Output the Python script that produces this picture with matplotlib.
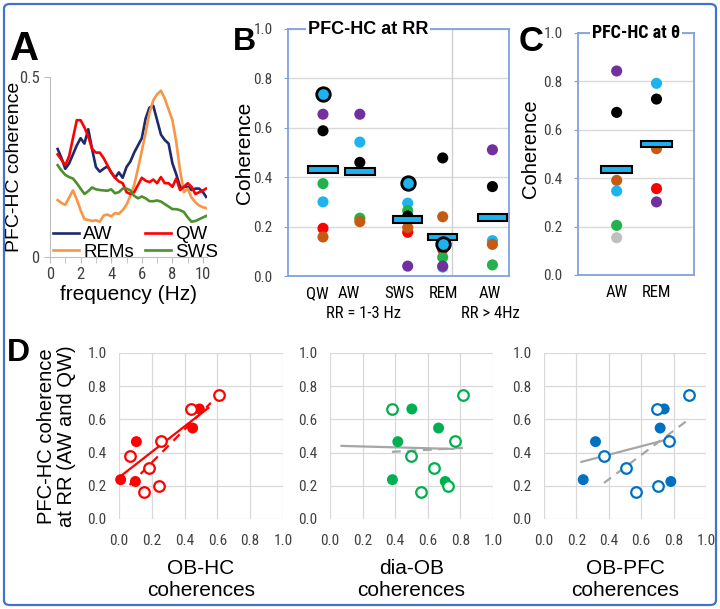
import matplotlib
matplotlib.use('Agg')
import numpy as np
import matplotlib.pyplot as plt
from matplotlib import font_manager as fm
from matplotlib.patches import FancyBboxPatch

plt.rcParams['font.family'] = ['Liberation Sans', 'DejaVu Sans']
# a condensed face for tick labels if one is installed
installed = {f.name for f in fm.fontManager.ttflist}
NARROW = [n for n in ['Liberation Sans Narrow', 'Arial Narrow', 'Roboto Condensed']
          if n in installed] + ['Liberation Sans', 'DejaVu Sans']
TICK_FS = 11 if len(NARROW) > 2 else 10.5

# ---------------- data ----------------
# A: PFC-HC coherence spectra
freq = [0.5, 0.75, 1.0, 1.25, 1.5, 1.75, 2.0, 2.25, 2.5, 2.75, 3.0, 3.25, 3.5, 3.75,
        4.0, 4.25, 4.5, 4.75, 5.0, 5.25, 5.5, 5.75, 6.0, 6.25, 6.5, 6.75, 7.0, 7.25,
        7.5, 7.75, 8.0, 8.25, 8.5, 8.75, 9.0, 9.25, 9.5, 9.75, 10.0, 10.2]
coh_aw = [0.30, 0.275, 0.245, 0.26, 0.285, 0.31, 0.33, 0.315, 0.355, 0.30, 0.25, 0.237,
          0.245, 0.252, 0.235, 0.22, 0.235, 0.22, 0.25, 0.265, 0.29, 0.31, 0.33, 0.385,
          0.415, 0.42, 0.38, 0.34, 0.325, 0.315, 0.26, 0.23, 0.195, 0.195, 0.195, 0.186,
          0.19, 0.19, 0.18, 0.167]
coh_qw = [0.285, 0.27, 0.255, 0.28, 0.33, 0.38, 0.38, 0.36, 0.335, 0.30, 0.29, 0.29,
          0.275, 0.255, 0.235, 0.22, 0.21, 0.205, 0.18, 0.175, 0.18, 0.20, 0.22, 0.212,
          0.208, 0.215, 0.205, 0.222, 0.205, 0.205, 0.195, 0.218, 0.186, 0.195, 0.205,
          0.195, 0.175, 0.18, 0.185, 0.19]
coh_rem = [0.158, 0.15, 0.145, 0.165, 0.185, 0.16, 0.13, 0.105, 0.103, 0.10, 0.102, 0.098,
           0.115, 0.118, 0.113, 0.122, 0.12, 0.13, 0.145, 0.17, 0.20, 0.245, 0.295, 0.345,
           0.40, 0.435, 0.452, 0.462, 0.44, 0.41, 0.38, 0.32, 0.24, 0.18, 0.19, 0.165,
           0.152, 0.143, 0.138, 0.136]
coh_sws = [0.255, 0.24, 0.228, 0.222, 0.218, 0.205, 0.19, 0.175, 0.183, 0.193, 0.188, 0.186,
           0.185, 0.184, 0.188, 0.177, 0.18, 0.19, 0.19, 0.185, 0.17, 0.163, 0.168, 0.163,
           0.155, 0.155, 0.157, 0.154, 0.147, 0.14, 0.133, 0.133, 0.13, 0.125, 0.11, 0.098,
           0.10, 0.105, 0.11, 0.114]

# B: coherence at RR per animal (value, animal)
b_labels = ['QW', 'AW', 'SWS', 'REM', 'AW']
b_qw = [(0.655, 'purple'), (0.588, 'black'), (0.374, 'green'), (0.300, 'cyan'),
        (0.193, 'red'), (0.158, 'brown'), (0.736, 'ring')]
b_aw = [(0.655, 'purple'), (0.542, 'cyan'), (0.460, 'black'), (0.234, 'green'),
        (0.220, 'brown')]
b_sws = [(0.040, 'purple'), (0.295, 'cyan'), (0.265, 'green'), (0.243, 'black'),
         (0.177, 'red'), (0.196, 'brown'), (0.378, 'ring')]
b_rem = [(0.036, 'cyan'), (0.478, 'black'), (0.240, 'brown'), (0.108, 'red'),
         (0.076, 'green'), (0.040, 'purple'), (0.128, 'ring')]
b_aw4 = [(0.511, 'purple'), (0.362, 'black'), (0.143, 'cyan'), (0.128, 'brown'),
         (0.045, 'green')]
b_median = [0.430, 0.424, 0.228, 0.158, 0.238]

# C: coherence at theta
c_labels = ['AW', 'REM']
c_aw = [(0.843, 'purple'), (0.672, 'black'), (0.391, 'brown'), (0.347, 'cyan'),
        (0.205, 'green'), (0.154, 'gray')]
c_rem = [(0.792, 'cyan'), (0.727, 'black'), (0.522, 'brown'), (0.357, 'red'),
         (0.302, 'purple')]
c_median = [0.437, 0.541]

# D: PFC-HC coherence at RR vs other coherences (filled = AW, open = QW)
d_y_aw = [0.663, 0.548, 0.466, 0.237, 0.226]
d_y_qw = [0.750, 0.663, 0.468, 0.378, 0.305, 0.198, 0.165]
obhc_aw = [0.49, 0.449, 0.106, 0.01, 0.10]
obhc_qw = [0.608, 0.437, 0.257, 0.065, 0.184, 0.245, 0.151]
diaob_aw = [0.502, 0.666, 0.416, 0.383, 0.707]
diaob_qw = [0.814, 0.379, 0.766, 0.496, 0.641, 0.723, 0.559]
obpfc_aw = [0.742, 0.717, 0.318, 0.242, 0.783]
obpfc_qw = [0.897, 0.696, 0.769, 0.372, 0.506, 0.705, 0.568]
d_xlabels = ['OB-HC\ncoherences', 'dia-OB\ncoherences', 'OB-PFC\ncoherences']

# ---------------- style ----------------
colors = {'purple': '#7030A0', 'black': '#000000', 'cyan': '#1DB3EE', 'green': '#22B14C',
          'red': '#FF0000', 'brown': '#C65A11', 'gray': '#BFBFBF', 'ring': '#1DB3EE'}
frame_blue = '#7FA0DF'
W, H = 720, 609

fig = plt.figure(figsize=(W / 100, H / 100), dpi=100)


def px_axes(l, t, r, b):
    return fig.add_axes([l / W, 1 - b / H, (r - l) / W, (b - t) / H])


def px_text(x, y, s, **kw):
    return fig.text(x / W, 1 - y / H, s, **kw)


# outer rounded frame
fig.patches.append(FancyBboxPatch((4 / W, 4 / H), 1 - 8 / W, 1 - 8 / H,
                                  boxstyle='round,pad=0,rounding_size=0.008',
                                  transform=fig.transFigure, fc='none',
                                  ec='#4472C4', lw=1.6))

# ---------------- panel A ----------------
axa = px_axes(50, 77, 207, 257)
axa.plot(freq, coh_aw, color='#1F2A6B', lw=1.9, label='AW')
axa.plot(freq, coh_rem, color='#F79646', lw=1.9, label='REMs')
axa.plot(freq, coh_qw, color='#FF0000', lw=1.9, label='QW')
axa.plot(freq, coh_sws, color='#4E8F2E', lw=1.9, label='SWS')
axa.set_xlim(0, 10.26)
axa.set_ylim(0, 0.5)
for s in ['top', 'right']:
    axa.spines[s].set_visible(False)
for s in ['left', 'bottom']:
    axa.spines[s].set_color('#BFBFBF')
axa.set_xticks([0, 2, 4, 6, 8, 10])
axa.set_xticks([1, 3, 5, 7, 9], minor=True)
axa.set_yticks([0, 0.5])
axa.set_yticklabels(['0', '0.5'])
axa.tick_params(which='both', color='#BFBFBF', length=4, labelsize=TICK_FS + 1,
                labelcolor='#404040')
for lab in axa.get_xticklabels() + axa.get_yticklabels():
    lab.set_family(NARROW)
axa.set_ylabel('PFC-HC coherence', fontsize=14)
axa.yaxis.set_label_coords(-0.17, 0.5)
axa.set_xlabel('frequency (Hz)', fontsize=15, labelpad=2)
axa.legend(ncol=2, loc='lower left', bbox_to_anchor=(0.02, -0.02), frameon=False,
           fontsize=13.5, handlelength=1.4, handletextpad=0.2, columnspacing=0.6,
           labelspacing=0.0, borderpad=0, borderaxespad=0)
px_text(10, 60, 'A', fontsize=29, fontweight='bold', ha='left', va='baseline')


def dot_panel(ax, groups, medians, pos, bar_w, bar_h):
    for x, grp in zip(pos, groups):
        for v, key in grp:
            if key == 'ring':
                ax.scatter(x, v, s=95, color=colors[key], edgecolor='black', lw=2.0,
                           zorder=4)
            else:
                ax.scatter(x, v, s=64, color=colors[key], edgecolor='none', zorder=3)
    ax.bar(pos, [bar_h] * len(pos), bottom=[m - bar_h / 2 for m in medians],
           width=bar_w, color='#1DB3EE', edgecolor='black', lw=1.5, zorder=3.5)
    ax.set_ylim(0, 1)
    ax.set_yticks([0, 0.2, 0.4, 0.6, 0.8, 1.0])
    ax.set_yticklabels(['0.0', '0.2', '0.4', '0.6', '0.8', '1.0'])
    ax.grid(axis='y', color='#D9D9D9', lw=1)
    ax.set_axisbelow(True)
    for s in ax.spines.values():
        s.set_color(frame_blue)
        s.set_linewidth(1.3)
    ax.tick_params(axis='y', length=3, color=frame_blue, pad=8, labelsize=TICK_FS,
                   labelcolor='#404040')
    ax.tick_params(axis='x', length=0, pad=7, labelsize=TICK_FS + 1)
    for lab in ax.get_yticklabels():
        lab.set_family(NARROW)


# ---------------- panel B ----------------
axb = px_axes(288, 29, 509, 276)
b_pos = [0.95, 1.95, 3.25, 4.2, 5.55]
b_label_pos = [0.79, 1.66, 3.03, 4.21, 5.49]
axb.set_xlim(0, 6)
dot_panel(axb, [b_qw, b_aw, b_sws, b_rem, b_aw4], b_median, b_pos, 0.8, 0.028)
axb.axvline(4.45, color='#D0D0D0', lw=1, zorder=1)
axb.set_xticks(b_label_pos)
axb.set_xticklabels(b_labels, family=NARROW)
axb.set_ylabel('Coherence', fontsize=15)
axb.yaxis.set_label_coords(-0.155, 0.5)
axb.text(0.362, 1.0, 'PFC-HC at RR', transform=axb.transAxes, ha='center',
         va='center', fontsize=13, fontweight='bold', zorder=6,
         bbox=dict(fc='white', ec='none', pad=1.5))
axb.text(2.05, -0.15, 'RR = 1-3 Hz', transform=axb.get_xaxis_transform(),
         ha='center', va='center', fontsize=TICK_FS + 1, family=NARROW)
axb.text(5.5, -0.15, 'RR > 4Hz', transform=axb.get_xaxis_transform(),
         ha='center', va='center', fontsize=TICK_FS + 1, family=NARROW)
px_text(233, 50, 'B', fontsize=23, fontweight='bold', ha='left', va='baseline')

# ---------------- panel C ----------------
axc = px_axes(578, 33, 694, 275)
c_pos = [1.0, 2.03]
axc.set_xlim(0, 3)
dot_panel(axc, [c_aw, c_rem], c_median, c_pos, 0.8, 0.028)
axc.set_xticks(c_pos)
axc.set_xticklabels(c_labels, family=NARROW)
axc.set_ylabel('Coherence', fontsize=14.5)
axc.yaxis.set_label_coords(-0.325, 0.52)
axc.text(0.5, 1.0, 'PFC-HC at θ', transform=axc.transAxes, ha='center',
         va='center', fontsize=13, fontweight='bold', zorder=6, family=NARROW,
         bbox=dict(fc='white', ec='none', pad=1.5))
px_text(519, 51, 'C', fontsize=25, fontweight='bold', ha='left', va='baseline')

# ---------------- panel D ----------------
d_boxes = [(119, 353, 283, 519), (330, 353, 493, 519), (544, 353, 706, 519)]
d_x_aw = [obhc_aw, diaob_aw, obpfc_aw]
d_x_qw = [obhc_qw, diaob_qw, obpfc_qw]
d_cols = ['#FF0000', '#00B050', '#0070C0']
d_fit_cols = ['#FF0000', '#A6A6A6', '#A6A6A6']
d_solid_span = [(0.0, 0.545), (0.07, 0.755), (0.231, 0.79)]
d_dash_span = [(0.065, 0.56), (0.38, 0.82), (0.37, 0.9)]

for i, box in enumerate(d_boxes):
    ax = px_axes(*box)
    col = d_cols[i]
    k1, b1 = np.polyfit(d_x_aw[i], d_y_aw, 1)
    k2, b2 = np.polyfit(d_x_qw[i], d_y_qw, 1)
    xs = np.array(d_solid_span[i])
    ax.plot(xs, k1 * xs + b1, color=d_fit_cols[i], lw=1.6, zorder=2)
    xd = np.array(d_dash_span[i])
    ax.plot(xd, k2 * xd + b2, color=d_fit_cols[i], lw=1.6, ls=(0, (4, 3)), zorder=2)
    ax.scatter(d_x_aw[i], d_y_aw, s=62, color=col, edgecolor='none', zorder=3,
               clip_on=False)
    ax.scatter(d_x_qw[i], d_y_qw, s=58, facecolor='white', edgecolor=col, lw=1.6,
               zorder=3, clip_on=False)
    ax.set_xlim(0, 1)
    ax.set_ylim(0, 1)
    ticks = [0, 0.2, 0.4, 0.6, 0.8, 1.0]
    tl = ['0.0', '0.2', '0.4', '0.6', '0.8', '1.0']
    ax.set_xticks(ticks)
    ax.set_xticklabels(tl)
    ax.set_yticks(ticks)
    ax.set_yticklabels(tl)
    ax.grid(color='#D9D9D9', lw=0.9)
    ax.set_axisbelow(True)
    for s in ax.spines.values():
        s.set_visible(False)
    ax.tick_params(length=0, labelsize=TICK_FS, labelcolor='#404040')
    ax.tick_params(axis='x', pad=11)
    ax.tick_params(axis='y', pad=9)
    for lab in ax.get_xticklabels() + ax.get_yticklabels():
        lab.set_family(NARROW)
    ax.set_xlabel(d_xlabels[i], fontsize=15, labelpad=8, linespacing=1.15)
    if i == 0:
        ax.set_ylabel('PFC-HC coherence\nat RR (AW and QW)', fontsize=14.5,
                      linespacing=1.1)
        ax.yaxis.set_label_coords(-0.26, 0.5)

px_text(7, 361, 'D', fontsize=23, fontweight='bold', ha='left', va='baseline')

fig.savefig('out.png', dpi=100, facecolor='white')
